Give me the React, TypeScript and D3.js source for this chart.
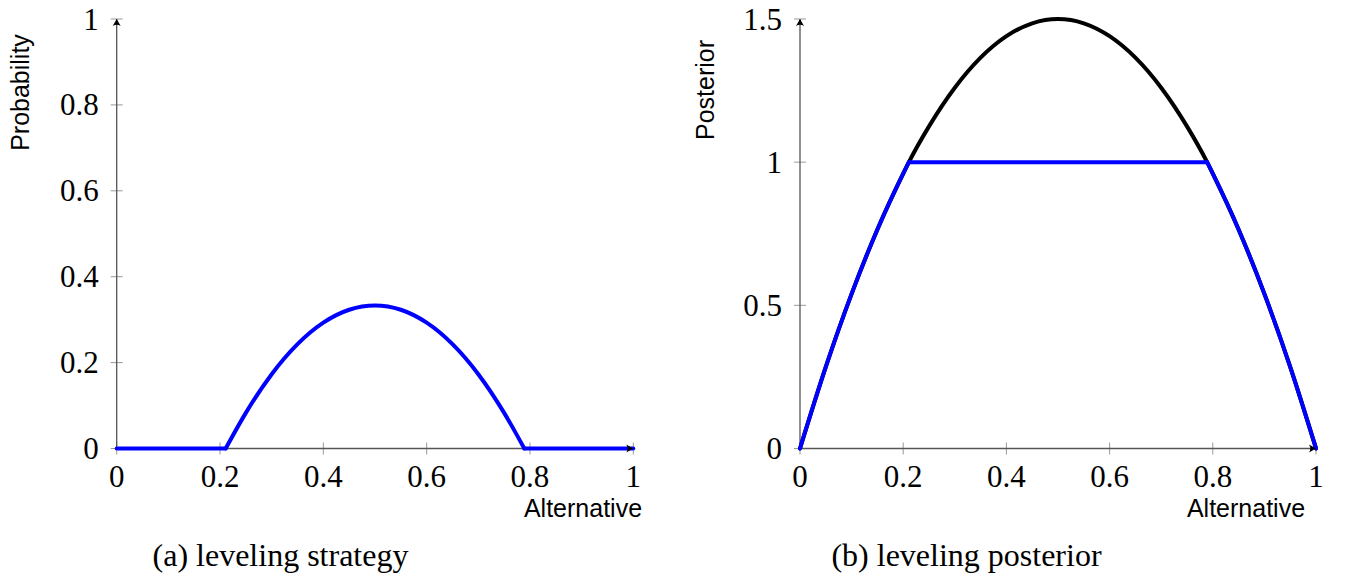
import React, { useEffect, useRef } from 'react';
import * as d3 from 'd3';

// alternative grid (with the two leveling break points)
const alternatives = [0, 0.05, 0.1, 0.15, 0.2, 0.211, 0.25, 0.3, 0.35, 0.4, 0.45, 0.5, 0.55, 0.6, 0.65, 0.7, 0.75, 0.789, 0.8, 0.85, 0.9, 0.95, 1];
const strategy = [0, 0, 0, 0, 0, 0, 0.083, 0.173, 0.243, 0.293, 0.323, 0.333, 0.323, 0.293, 0.243, 0.173, 0.083, 0, 0, 0, 0, 0, 0];
const posterior = [0, 0.285, 0.54, 0.765, 0.96, 1.0, 1.125, 1.26, 1.365, 1.44, 1.485, 1.5, 1.485, 1.44, 1.365, 1.26, 1.125, 1.0, 0.96, 0.765, 0.54, 0.285, 0];
const leveledPosterior = [0, 0.285, 0.54, 0.765, 0.96, 1, 1, 1, 1, 1, 1, 1, 1, 1, 1, 1, 1, 1, 0.96, 0.765, 0.54, 0.285, 0];
const breakIdx = [5, 17];

const xTicks = [0, 0.2, 0.4, 0.6, 0.8, 1];
const yTicksLeft = [0, 0.2, 0.4, 0.6, 0.8, 1];
const yTicksRight = [0, 0.5, 1, 1.5];

const SERIF = '"Liberation Serif", serif';
const SANS = '"Liberation Sans", sans-serif';

export default function App() {
  const svgRef = useRef<SVGSVGElement>(null);

  useEffect(() => {
    if (!svgRef.current) return;
    const svg = d3.select(svgRef.current);
    svg.selectAll('*').remove();

    const split = (vals: number[]) => {
      const cuts = [0, ...breakIdx, alternatives.length - 1];
      const parts: [number, number][][] = [];
      for (let i = 0; i < cuts.length - 1; i++) {
        const seg: [number, number][] = [];
        for (let j = cuts[i]; j <= cuts[i + 1]; j++) seg.push([alternatives[j], vals[j]]);
        parts.push(seg);
      }
      return parts;
    };

    const panel = (opts: {
      x0: number; x1: number; yMax: number; yTicks: number[];
      ylabel: string; ylabelX: number; ylabelY: number; xlabelX: number;
      caption: string; captionX: number;
      series: { vals: number[]; color: string; broken: boolean }[];
    }) => {
      const x = d3.scaleLinear().domain([0, 1]).range([opts.x0, opts.x1]);
      const y = d3.scaleLinear().domain([0, opts.yMax]).range([448.5, 19]);
      const g = svg.append('g');

      // ticks
      g.selectAll('.xt').data(xTicks).enter().append('line')
        .attr('x1', d => x(d)).attr('x2', d => x(d))
        .attr('y1', y(0) - 6).attr('y2', y(0) + 6)
        .attr('stroke', '#999').attr('stroke-width', 1);
      g.selectAll('.yt').data(opts.yTicks).enter().append('line')
        .attr('x1', x(0) - 6).attr('x2', x(0) + 6)
        .attr('y1', d => y(d)).attr('y2', d => y(d))
        .attr('stroke', '#999').attr('stroke-width', 1);

      // axis lines
      g.append('line').attr('x1', x(0)).attr('x2', x(1)).attr('y1', y(0)).attr('y2', y(0))
        .attr('stroke', '#555').attr('stroke-width', 1.3);
      g.append('line').attr('x1', x(0)).attr('x2', x(0)).attr('y1', y(0)).attr('y2', y(opts.yMax))
        .attr('stroke', '#555').attr('stroke-width', 1.3);

      const line = d3.line<[number, number]>().x(d => x(d[0])).y(d => y(d[1])).curve(d3.curveMonotoneX);
      opts.series.forEach(s => {
        const parts = s.broken ? split(s.vals) : [alternatives.map((a, i) => [a, s.vals[i]] as [number, number])];
        parts.forEach(p => {
          g.append('path').attr('d', line(p)!).attr('fill', 'none')
            .attr('stroke', s.color).attr('stroke-width', 4)
            .attr('stroke-linejoin', 'round').attr('stroke-linecap', 'round');
        });
      });

      // arrowheads
      const arrow = (tx: number, ty: number, rot: number) => {
        g.append('path').attr('d', 'M0,0 L-7,-4 Q-4.5,0 -7,4 Z')
          .attr('transform', `translate(${tx},${ty}) rotate(${rot})`)
          .attr('fill', '#000');
      };
      arrow(x(1), y(0), 0);
      arrow(x(0), y(opts.yMax), -90);

      // tick labels
      g.selectAll('.xl').data(xTicks).enter().append('text')
        .attr('x', d => x(d)).attr('y', 487)
        .attr('text-anchor', 'middle').attr('font-family', SERIF).attr('font-size', 31)
        .text(d => d3.format('')(d));
      g.selectAll('.yl').data(opts.yTicks).enter().append('text')
        .attr('x', x(0) - 18).attr('y', d => y(d) + 10.5)
        .attr('text-anchor', 'end').attr('font-family', SERIF).attr('font-size', 31)
        .text(d => d3.format('')(d));

      // axis labels
      g.append('text').attr('x', opts.xlabelX).attr('y', 517)
        .attr('text-anchor', 'middle').attr('font-family', SANS).attr('font-size', 25)
        .text('Alternative');
      g.append('text')
        .attr('transform', `translate(${opts.ylabelX},${opts.ylabelY}) rotate(-90)`)
        .attr('text-anchor', 'middle').attr('font-family', SANS).attr('font-size', 25)
        .text(opts.ylabel);

      // caption
      g.append('text').attr('x', opts.captionX).attr('y', 566)
        .attr('text-anchor', 'middle').attr('font-family', SERIF).attr('font-size', 32)
        .text(opts.caption);
    };

    panel({
      x0: 116.7, x1: 633.3, yMax: 1, yTicks: yTicksLeft,
      ylabel: 'Probability', ylabelX: 29, ylabelY: 92.5, xlabelX: 583,
      caption: '(a) leveling strategy', captionX: 280.5,
      series: [{ vals: strategy, color: '#0000ff', broken: true }],
    });
    panel({
      x0: 800, x1: 1316, yMax: 1.5, yTicks: yTicksRight,
      ylabel: 'Posterior', ylabelX: 714, ylabelY: 90, xlabelX: 1246,
      caption: '(b) leveling posterior', captionX: 966.5,
      series: [
        { vals: posterior, color: '#000', broken: false },
        { vals: leveledPosterior, color: '#0000ff', broken: true },
      ],
    });
  }, []);

  return (
    <svg ref={svgRef} width={1346} height={580}
      style={{ position: 'absolute', left: 0, top: 0, display: 'block', background: '#fff' }} />
  );
}
